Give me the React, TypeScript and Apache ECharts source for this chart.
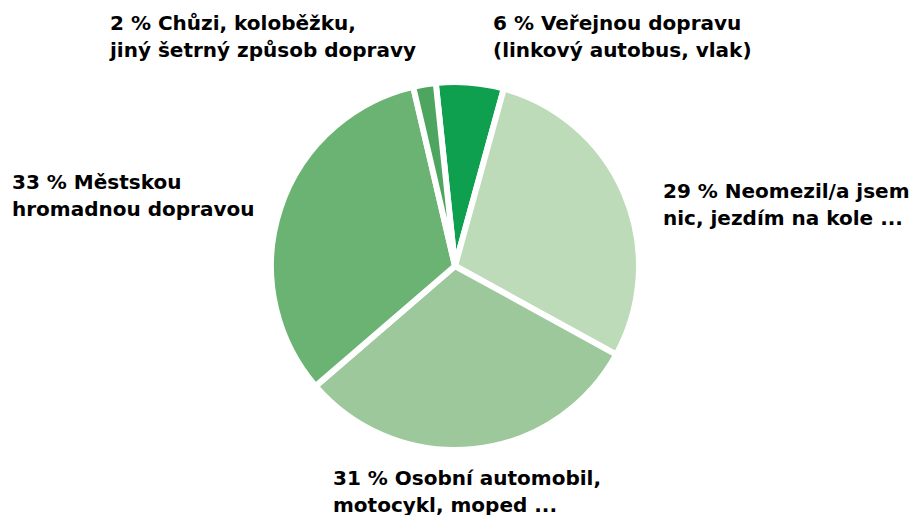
import React, { useEffect, useRef } from "react";
import * as echarts from "echarts";

const categories = [
  "Veřejnou dopravu\n(linkový autobus, vlak)",
  "Neomezil/a jsem\nnic, jezdím na kole ...",
  "Osobní automobil,\nmotocykl, moped ...",
  "Městskou\nhromadnou dopravou",
  "Chůzi, koloběžku,\njiný šetrný způsob dopravy",
];
const values = [6, 29, 31, 33, 2];
const colors = ["#0ea04e", "#bddbb9", "#9cc89b", "#6ab373", "#4ea55f"];
const labelPos = [
  { x: 493, y: 9 },
  { x: 663, y: 177 },
  { x: 333, y: 464 },
  { x: 12, y: 168 },
  { x: 110, y: 9 },
];

export default function App() {
  const ref = useRef<HTMLDivElement>(null);
  useEffect(() => {
    if (!ref.current) return;
    const chart = echarts.init(ref.current, undefined, { renderer: "svg" });
    chart.setOption({
      animation: false,
      backgroundColor: "#ffffff",
      series: [
        {
          type: "pie",
          center: [455, 266],
          radius: 184,
          startAngle: 96,
          clockwise: true,
          avoidLabelOverlap: false,
          itemStyle: { borderColor: "#ffffff", borderWidth: 6 },
          labelLine: { show: false },
          label: {
            show: true,
            position: "outside",
            formatter: (p: any) => {
              const [a, b] = String(p.name).split("\n");
              return `${p.value} % ${a}\n${b}`;
            },
            fontFamily: "DejaVu Sans",
            fontWeight: "bold",
            fontSize: 20,
            lineHeight: 27,
            color: "#000000",
            align: "left",
          },
          labelLayout: (params: any) => {
            const pos = labelPos[params.dataIndex];
            return { x: pos.x, y: pos.y, align: "left", verticalAlign: "top" };
          },
          data: categories.map((c, i) => ({
            name: c,
            value: values[i],
            itemStyle: { color: colors[i] },
          })),
        },
      ],
    });
    return () => chart.dispose();
  }, []);
  return (
    <div
      ref={ref}
      style={{ position: "fixed", left: 0, top: 0, width: 909, height: 515 }}
    />
  );
}
